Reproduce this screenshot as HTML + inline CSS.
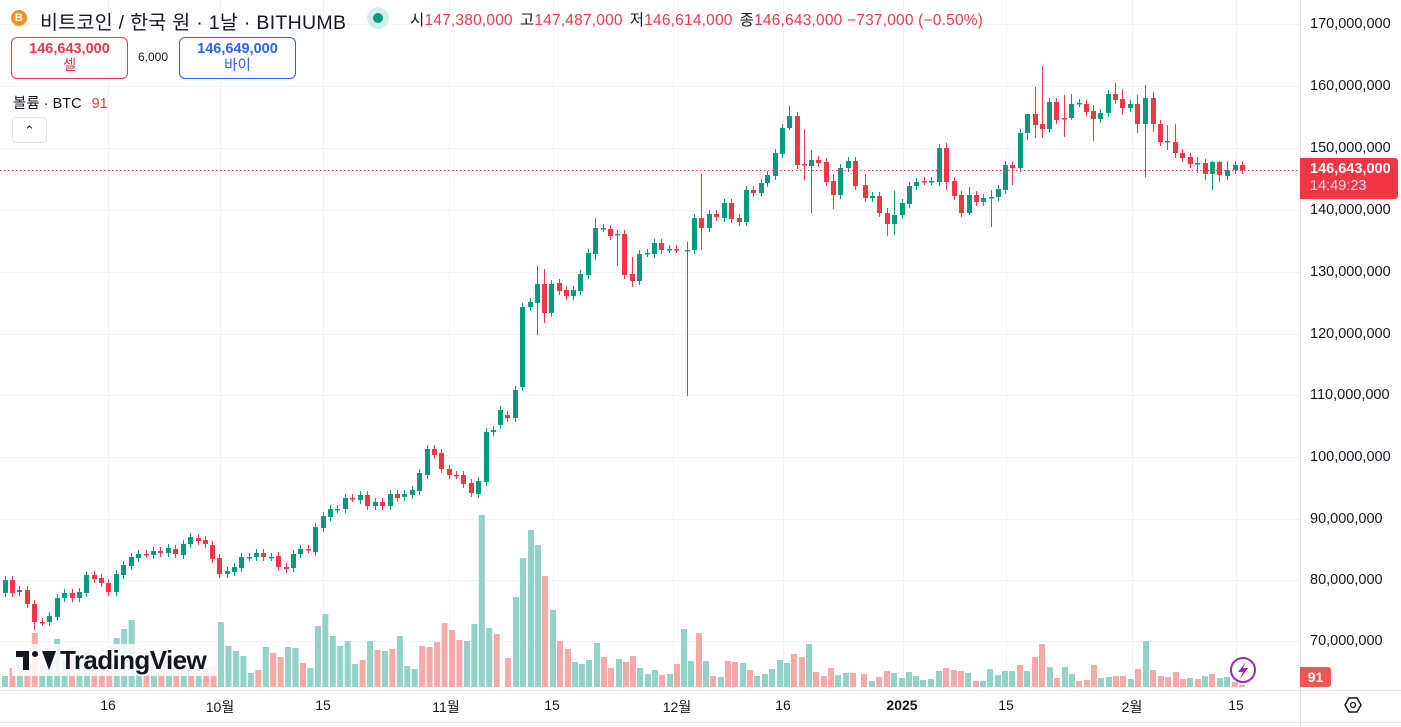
<!DOCTYPE html>
<html><head><meta charset="utf-8">
<style>
html,body{margin:0;padding:0;background:#fff;width:1401px;height:727px;overflow:hidden;font-family:"Liberation Sans","Noto Sans CJK KR",sans-serif;color:#131722}
svg{position:absolute;left:0;top:0}
.hdr{position:absolute;left:40px;top:6px;font-size:19.5px;white-space:nowrap;letter-spacing:0.3px}
.ohlc{position:absolute;left:410px;top:8px;font-size:15.5px;white-space:nowrap;letter-spacing:0.2px}
.ohlc b{font-weight:normal;color:#f23645;margin-right:7px}
.box{position:absolute;top:37px;width:117px;border:1px solid;border-radius:6px;text-align:center;font-size:14.5px;line-height:17px;padding-top:3px;box-sizing:border-box;height:42px;background:#fff}
.box .v{font-weight:bold}
.lbl{position:absolute;font-size:14px;white-space:nowrap}
.ax{position:absolute;left:1310px;font-size:14.5px;line-height:16px}
.tx{position:absolute;top:697px;font-size:14px;transform:translateX(-50%)}
</style></head><body>
<svg id="s" width="1401" height="727"></svg>
<div class="hdr"><span style="position:absolute;left:-29px;top:4px;width:16px;height:16px;border-radius:50%;background:#f7931a;color:#fff;font-size:11px;text-align:center;line-height:16px;font-weight:bold">B</span>비트코인 / 한국 원 · 1날 · BITHUMB</div>
<div style="position:absolute;left:367px;top:7px;width:22px;height:22px;border-radius:50%;background:#d4efe9"></div>
<div style="position:absolute;left:373px;top:13px;width:10px;height:10px;border-radius:50%;background:#089981"></div>
<div class="ohlc">시<b>147,380,000</b>고<b>147,487,000</b>저<b>146,614,000</b>종<b>146,643,000 −737,000 (−0.50%)</b></div>
<div class="box" style="left:11px;border-color:#f23645;color:#f23645"><div class="v">146,643,000</div><div>셀</div></div>
<div class="lbl" style="left:138px;top:50px;font-size:12px">6,000</div>
<div class="box" style="left:179px;border-color:#2962ff;color:#2962ff"><div class="v">146,649,000</div><div>바이</div></div>
<div class="lbl" style="left:13px;top:92px;font-size:14.5px">볼륨 · BTC <span style="color:#f23645;margin-left:6px">91</span></div>
<div style="position:absolute;left:12px;top:117px;width:35px;height:26px;border:1px solid #e0e3eb;border-radius:4px;box-sizing:border-box;text-align:center;font-size:13px;line-height:25px">⌃</div>
<div class="ax" style="top:16px">170,000,000</div>
<div class="ax" style="top:78px">160,000,000</div>
<div class="ax" style="top:140px">150,000,000</div>
<div class="ax" style="top:202px">140,000,000</div>
<div class="ax" style="top:264px">130,000,000</div>
<div class="ax" style="top:326px">120,000,000</div>
<div class="ax" style="top:387px">110,000,000</div>
<div class="ax" style="top:449px">100,000,000</div>
<div class="ax" style="top:511px">90,000,000</div>
<div class="ax" style="top:572px">80,000,000</div>
<div class="ax" style="top:633px">70,000,000</div>
<div style="position:absolute;left:1300px;top:158px;width:98px;height:41px;background:#f23645;border-radius:0 3px 3px 0;color:#fff;font-size:14.5px;line-height:17px;padding:3px 0 0 10px;box-sizing:border-box"><b>146,643,000</b><br><span style="color:#fde">14:49:23</span></div>
<div style="position:absolute;left:1300px;top:667px;width:31px;height:20px;background:#f05454;border-radius:0 3px 3px 0;color:#fff;font-size:14px;font-weight:bold;text-align:center;line-height:20px">91</div>
<div class="tx" style="left:108px">16</div>
<div class="tx" style="left:220px">10월</div>
<div class="tx" style="left:323px">15</div>
<div class="tx" style="left:446px">11월</div>
<div class="tx" style="left:552px">15</div>
<div class="tx" style="left:677px">12월</div>
<div class="tx" style="left:783px">16</div>
<div class="tx" style="left:902px;font-weight:bold">2025</div>
<div class="tx" style="left:1006px">15</div>
<div class="tx" style="left:1132px">2월</div>
<div class="tx" style="left:1236px">15</div>
<div style="position:absolute;left:12px;top:644px;width:206px;height:32px;background:rgba(255,255,255,0.85)"></div>
<div style="position:absolute;left:16px;top:651px;width:13px;height:6px;background:#131722"></div>
<div style="position:absolute;left:23px;top:651px;width:6px;height:19px;background:#131722"></div>
<div style="position:absolute;left:32px;top:651px;width:6px;height:6px;border-radius:50%;background:#131722"></div>
<div style="position:absolute;left:34px;top:651px;width:0;height:0;border-left:7px solid transparent;border-right:7px solid transparent;border-top:19px solid #131722;transform:translateX(8px)"></div>
<div style="position:absolute;left:60px;top:645px;font-size:26px;font-weight:bold;letter-spacing:-0.6px;color:#131722;line-height:30px">TradingView</div>
<script>
var s=document.getElementById('s'),h='';
function L(x1,y1,x2,y2,c,w,d){h+='<line x1="'+x1+'" y1="'+y1+'" x2="'+x2+'" y2="'+y2+'" stroke="'+c+'" stroke-width="'+(w||1)+'"'+(d?' stroke-dasharray="'+d+'"':'')+'/>';}
function R(x,y,w,hh,c){h+='<rect x="'+x+'" y="'+y+'" width="'+w+'" height="'+hh+'" fill="'+c+'"/>';}
[24,86,148,210,272,334,395,457,519,580,641].forEach(function(y){L(0,y+.5,1300,y+.5,'#f0f3fa');});
[108,220,323,449,553,673,783,903,1006,1132,1236].forEach(function(x){L(x+.5,0,x+.5,690,'#f0f3fa');});
L(1300.5,0,1300.5,727,'#e0e3eb');L(0,690.5,1401,690.5,'#e0e3eb');L(0,722.5,1401,722.5,'#e0e3eb');
var v1=[676,668,665,660,633,665,665,639,660,647,660,649,665,660,646,638,629,620,660,655,650,660,665,660,668,670,672,668,665,622,646,651,656,673,670,647,653,657,647,648,663,668,626,614,636,646,641,664,660,641,650,651,649,636,666,669,646,647,642,623,630,640,641,624,515,628,634];
var c1="grgrrggggrggrrrggggrgrgrgrgrrgggggrgrrggrgggggggrgrgrgggrrrrrrgggg";
for(var i=0;i<v1.length;i++){var x=5+i*7.45;R(x-3,v1[i],6,687-v1[i],c1[i]=='g'?'#92d2c9':'#f7a9a7');}
var v2=[[508,658,'r'],[516,597,'g'],[523,558,'g'],[531,530,'g'],[538,545,'g'],[545,576,'r'],[553,610,'g'],[560,641,'r'],[568,649,'r'],[575,662,'g'],[582,664,'g'],[589,660,'g'],[597,643,'g'],[604,657,'r'],[611,668,'r'],[619,659,'g'],[626,662,'r'],[633,656,'r'],[640,668,'g'],[648,674,'g'],[655,670,'g'],[662,675,'r'],[670,674,'g'],[677,664,'r'],[684,629,'g'],[691,661,'g'],[699,633,'r'],[706,661,'g'],[713,676,'r'],[721,677,'g'],[728,661,'r'],[735,662,'r'],[743,663,'g'],[750,670,'r'],[757,676,'g'],[765,674,'g'],[772,669,'g'],[780,660,'g'],[787,663,'g'],[794,654,'r'],[802,657,'r'],[809,644,'g'],[816,672,'r'],[824,676,'r'],[831,668,'r'],[838,675,'g'],[846,673,'g'],[853,673,'r']];
var x3=[864,872,879,887,894,902,909,916,923,931,939,946,954,961,968,976,983,990,998,1005,1012,1020,1027,1035,1042,1050,1057,1065,1072,1079,1087,1094,1101,1109,1116,1123,1131,1138,1146,1153,1161,1168,1176,1183,1190,1198,1205,1212,1220,1227,1235,1242];
var y3=[674,681,677,671,673,678,672,676,680,679,671,668,670,671,673,681,681,669,675,671,671,665,671,657,644,667,678,667,674,681,680,665,678,677,676,676,679,669,641,670,676,677,672,679,678,679,676,674,678,677,682,685];
var c3="rgrrgggggggrrrgrgggggrgrrgrggrrrggrrgrgrrrrrgrgrggrr";
for(i=0;i<x3.length;i++)v2.push([x3[i],y3[i],c3[i]=='g'?'g':'r']);
v2.forEach(function(b){R(b[0]-3,b[1],6,687-b[1],b[2]=='g'?'#92d2c9':'#f7a9a7');});
var C=[[5,593,580],[12,580,593],[19,592,590],[27,590,604],[34,604,622,600,630],[42,622,622],[49,622,616],[57,617,598],[64,598,593],[72,593,598],[79,598,592],[86,593,575],[94,575,579],[101,578,583],[108,583,592],[116,592,574],[123,575,565],[131,566,557],[138,558,554],[146,554,554],[153,555,551],[160,551,553],[168,553,548],[175,549,554],[183,555,544],[190,544,537],[198,538,541],[205,540,544],[212,545,559],[219,558,574],[227,574,571],[234,572,567],[241,568,557],[249,557,557],[256,557,553],[263,553,557],[271,557,557],[278,556,567],[286,567,569],[293,568,554],[300,554,549],[308,549,549],[315,552,527],[323,528,516],[330,517,509],[337,509,509],[345,509,498],[352,498,498],[360,500,495],[367,495,506],[375,506,502],[382,502,506],[390,506,494],[397,494,498],[404,497,494],[412,495,490],[419,491,473],[427,475,449],[434,449,455],[441,453,469],[449,469,475],[456,475,475],[463,475,484],[471,483,493],[478,494,481],[486,482,432],[493,432,430],
[500,425,410],[507,415,418],[515,418,390],[522,387,307],[530,307,302],[537,303,284,266,335],[544,284,313,269,323],[551,313,284],[559,283,291],[566,290,296],[573,296,290],[580,291,274],[588,275,253],[595,254,228,218,260],[603,228,228],[610,229,236],[617,234,234,230,266],[624,234,275],[632,274,281,257,287],[639,281,254],[647,253,253],[654,254,243],[661,243,250],[669,249,249],[676,249,249],[687,250,250,242,396],[694,250,218],[701,218,228,174,250],[709,228,214],[716,214,217],[724,218,203],[731,203,219],[739,218,222],[746,222,190],[753,190,193],[761,193,183],[767,183,175],[775,176,153],[782,154,128],[789,128,116,106,130],[797,116,165],[804,164,165,129,180],[811,166,160,150,213],[818,160,163],[826,162,182],[833,181,195,174,209],[840,195,168],[848,168,161],[855,161,186],[865,185,198,174,202],
[872,198,196],[879,196,213],[887,213,224,208,236],[894,224,215,191,235],[902,215,203],[909,204,186],[916,186,182],[924,181,181],[931,181,181],[939,182,148],[946,148,182,143,190],[954,181,196],[961,195,213],[969,213,195,187,215],[976,195,202],[983,202,198],[991,197,197,190,227],[998,197,189],[1005,190,165],[1012,165,168,162,185],[1020,168,133],[1027,133,114,115,140],[1035,114,125,87,138],[1042,124,129,66,138],[1049,129,102],[1056,102,120],[1064,118,118,95,137],[1071,118,104,94,120],[1079,103,103],[1086,104,112],[1093,111,119,105,141],[1100,119,113],[1108,113,94],[1115,94,100,83,104],[1122,99,108,89,115],[1130,108,104],[1137,104,124,95,133],[1145,124,98,85,177],[1153,98,124,92,132],[1160,124,142],[1167,141,141,125,150],[1175,142,153,124,158],[1182,153,158],[1190,157,164],[1197,163,163,157,173],[1205,163,174,159,180],[1212,174,162,161,190],[1219,162,175,161,182],[1227,176,170,161,180],[1235,170,165],[1242,165,170]];
C.forEach(function(c){var x=c[0],o=c[1],cl=c[2],t=Math.min(o,cl),b=Math.max(o,cl);var col=cl<o?'#089981':(cl>o?'#f23645':(x%2?'#089981':'#f23645'));var hi=c[3]||t-4,lo=c[4]||b+4;L(x+.5,hi,x+.5,lo,col);R(x-2,t,5,Math.max(b-t,1.5),col);});
L(0,170.5,1300,170.5,'#f23645',1,'1.5 2.5');
h+='<circle cx="1243" cy="670" r="12" fill="#fff" stroke="#9c27b0" stroke-width="2"/><path d="M1246 662 L1238 672 L1243 672 L1240 679 L1248 668 L1243 668 Z" fill="#9c27b0"/>';
h+='<polygon points="1345,705 1349,698 1357,698 1361,705 1357,712 1349,712" fill="none" stroke="#131722" stroke-width="1.5"/><circle cx="1353" cy="705" r="2.5" fill="none" stroke="#131722" stroke-width="1.3"/>';
s.innerHTML=h;
</script>
</body></html>
